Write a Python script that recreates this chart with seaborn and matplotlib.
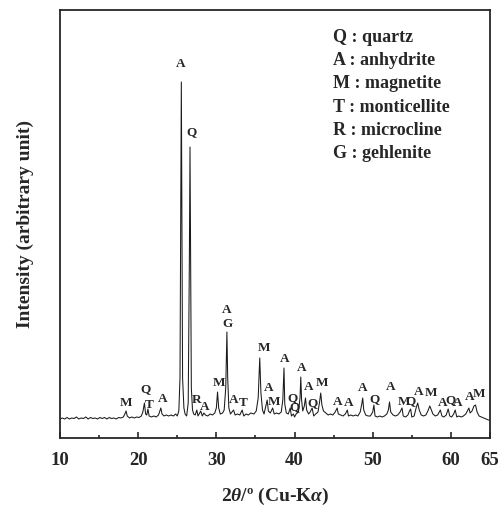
import matplotlib
matplotlib.use('Agg')
import matplotlib.pyplot as plt
import seaborn as sns
import pandas as pd

# XRD scan (2theta in degrees, intensity in arbitrary units)
two_theta = [10.0, 10.3, 10.6, 10.9, 11.2, 11.5, 11.8, 12.1, 12.4, 12.7, 13.0, 13.3, 13.6, 13.9,
             14.2, 14.5, 14.8, 15.1, 15.4, 15.7, 16.0, 16.3, 16.6, 16.9, 17.2, 17.5, 17.8, 18.1,
             18.3, 18.45, 18.6, 18.9, 19.2, 19.5, 19.8, 20.1, 20.4, 20.6, 20.8, 20.95, 21.1, 21.25,
             21.4, 21.7, 22.0, 22.3, 22.6, 22.9, 23.05, 23.3, 23.6, 23.9, 24.2, 24.5, 24.8, 25.0,
             25.2, 25.35, 25.45, 25.52, 25.58, 25.68, 25.85, 26.0, 26.2, 26.4, 26.55, 26.63, 26.7,
             26.8, 26.95, 27.1, 27.3, 27.5, 27.65, 27.8, 28.0, 28.2, 28.4, 28.6, 28.9, 29.2, 29.5,
             29.8, 30.0, 30.15, 30.3, 30.5, 30.8, 31.0, 31.2, 31.35, 31.45, 31.6, 31.8, 32.0, 32.2,
             32.4, 32.7, 33.0, 33.3, 33.5, 33.8, 34.1, 34.4, 34.8, 35.1, 35.35, 35.55, 35.7, 35.9,
             36.1, 36.35, 36.5, 36.65, 36.9, 37.2, 37.4, 37.7, 38.0, 38.3, 38.5, 38.65, 38.75, 38.95,
             39.2, 39.45, 39.6, 39.85, 40.0, 40.2, 40.5, 40.7, 40.8, 40.9, 41.05, 41.25, 41.4, 41.55,
             41.8, 42.0, 42.25, 42.45, 42.7, 43.0, 43.2, 43.35, 43.5, 43.7, 44.0, 44.3, 44.6, 44.9,
             45.2, 45.45, 45.6, 45.9, 46.2, 46.5, 46.75, 46.9, 47.2, 47.5, 47.8, 48.1, 48.4, 48.6,
             48.72, 48.85, 49.1, 49.4, 49.7, 50.0, 50.15, 50.3, 50.6, 50.9, 51.2, 51.5, 51.8, 52.0,
             52.15, 52.3, 52.6, 52.9, 53.2, 53.5, 53.75, 53.9, 54.2, 54.5, 54.7, 54.85, 55.0, 55.3,
             55.55, 55.75, 55.95, 56.2, 56.5, 56.8, 57.05, 57.3, 57.5, 57.7, 58.0, 58.3, 58.65, 58.85,
             59.1, 59.4, 59.65, 59.85, 60.1, 60.35, 60.55, 60.75, 61.0, 61.3, 61.6, 61.9, 62.1, 62.3,
             62.45, 62.7, 62.95, 63.15, 63.35, 63.6, 63.9, 64.2, 64.5, 64.8, 65.0]
intensity = [19, 20, 19, 20.5, 19, 20, 19.5, 21, 19, 20, 19.5, 21, 19, 20.5,
             19.5, 20, 19, 20.5, 19.5, 20.5, 19, 20.5, 19.5, 20, 19, 20.5, 20, 21,
             24, 27, 22, 20, 21, 20, 21, 20.5, 22, 26, 35, 24, 23, 29,
             22, 21, 22, 21, 23, 30, 24, 22, 23, 22, 23, 22, 24, 22,
             27, 60, 250, 356, 240, 60, 30, 24, 22, 35, 180, 291, 190,
             50, 28, 24, 23, 28, 22, 24, 27, 22, 25, 23, 22, 24, 23,
             25, 30, 46, 30, 24, 25, 28, 50, 106, 60, 30, 24, 26, 28,
             23, 24, 23, 28, 22, 24, 23, 25, 24, 27, 40, 80, 45, 28,
             24, 33, 38, 27, 25, 30, 24, 25, 24, 26, 38, 70, 34, 25,
             24, 30, 22, 24, 21, 24, 26, 40, 61, 38, 27, 32, 40, 28,
             24, 26, 30, 22, 24, 26, 36, 45, 33, 27, 25, 23, 24, 23,
             26, 30, 24, 23, 22, 24, 28, 22, 23, 22, 23, 22, 26, 34,
             40, 28, 23, 22, 22, 26, 33, 22, 21, 22, 21, 22, 24, 28,
             36, 26, 23, 22, 23, 26, 30, 22, 21, 23, 27, 29, 21, 22,
             30, 35, 28, 23, 22, 23, 27, 32, 28, 24, 22, 23, 28, 22,
             21, 23, 29, 22, 21, 24, 28, 21, 22, 21, 22, 24, 27, 30,
             25, 27, 32, 33, 26, 22, 21, 20, 19, 18, 18]

# phase labels above the peaks
label_text = ['M', 'Q', 'T', 'A', 'A', 'Q', 'R', 'A', 'M', 'A', 'G', 'A', 'T', 'M', 'A', 'M',
              'A', 'Q', 'Q', 'A', 'A', 'Q', 'M', 'A', 'A', 'A', 'Q', 'A', 'M', 'Q', 'A', 'M',
              'A', 'Q', 'A', 'A', 'M']
label_x = [18.42, 20.90, 21.45, 23.17, 25.38, 26.76, 27.53, 28.46, 30.29, 31.37, 31.45, 32.22,
           33.42, 36.06, 36.71, 37.35, 38.72, 39.71, 40.0, 40.9, 41.76, 42.27, 43.55, 45.47,
           46.96, 48.68, 50.29, 52.31, 53.94, 54.87, 55.94, 57.44, 58.94, 60.0, 60.86, 62.35, 63.63]
label_y = [35, 49, 33, 39, 374, 306, 38, 31, 55, 128, 114, 38,
           35, 90, 50, 36, 79, 40, 31, 70, 51, 35, 55, 36,
           35, 50, 39, 51, 36, 37, 46, 45, 35, 38, 35, 41, 44]

phase_symbols = ['Q', 'A', 'M', 'T', 'R', 'G']
phase_names = ['quartz', 'anhydrite', 'magnetite', 'monticellite', 'microcline', 'gehlenite']

df = pd.DataFrame({'two_theta': two_theta, 'intensity': intensity})

sns.set_style('ticks')
plt.rcParams['font.family'] = ['Liberation Serif', 'DejaVu Serif']
plt.rcParams['font.weight'] = 'bold'
plt.rcParams['mathtext.fontset'] = 'custom'
plt.rcParams['mathtext.rm'] = 'Liberation Serif:bold'
plt.rcParams['mathtext.it'] = 'Liberation Serif:italic:bold'

fig = plt.figure(figsize=(5.02, 5.08), dpi=100)
ax = fig.add_axes([0.1195, 0.1378, 0.8566, 0.8425])

sns.lineplot(data=df, x='two_theta', y='intensity', ax=ax, color='#1a1a1a',
             linewidth=0.75, estimator=None, sort=False)

for s, x, y in zip(label_text, label_x, label_y):
    ax.text(x, y, s, ha='center', va='center', fontsize=9.5, fontweight='bold')

for i, (sym, name) in enumerate(zip(phase_symbols, phase_names)):
    fig.text(0.663, 1 - (37.3 + i * 23.3) / 508, sym + ' : ' + name,
             ha='left', va='center', fontsize=13, fontweight='bold')

ax.set_xlim(10, 65)
ax.set_ylim(0, 428)
ax.set_xticks([10, 20, 30, 40, 50, 60, 65])
ax.set_xticks([15, 25, 35, 45, 55], minor=True)
ax.set_yticks([])
ax.tick_params(axis='x', which='major', direction='in', length=4.5, width=1.2,
               labelsize=13.5, pad=10)
ax.tick_params(axis='x', which='minor', direction='in', length=2.2, width=1.2)
for lbl in ax.get_xticklabels():
    lbl.set_fontweight('bold')
for sp in ax.spines.values():
    sp.set_linewidth(1.3)
    sp.set_visible(True)

ax.set_xlabel(r'2$\theta$/º (Cu-K$\alpha$)', fontsize=14, fontweight='bold', labelpad=12)
ax.set_ylabel('Intensity (arbitrary unit)', fontsize=14, fontweight='bold', labelpad=19)

fig.savefig('out.png', dpi=100)
